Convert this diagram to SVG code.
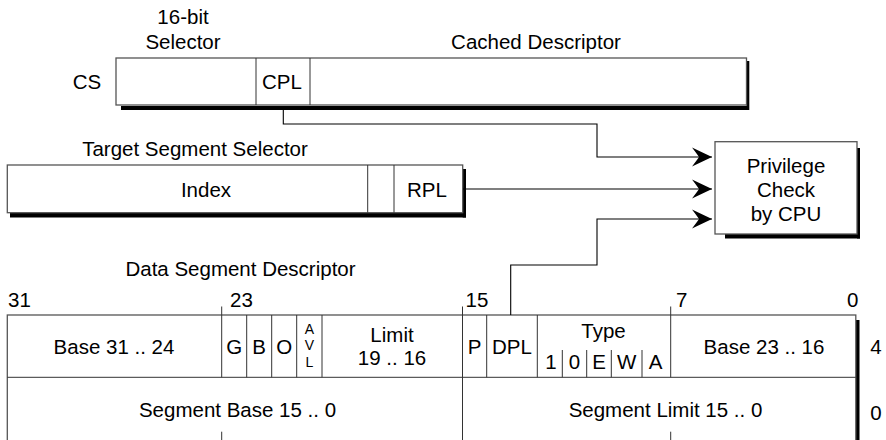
<svg xmlns="http://www.w3.org/2000/svg" width="886" height="440" viewBox="0 0 886 440">
<style>
text{font-family:"Liberation Sans",Arial,sans-serif;font-size:20.5px;fill:#000;text-anchor:middle}
.sm{font-size:14px}
.st{text-anchor:start}
.box{fill:#fff;stroke:#555;stroke-width:1.3}
.div{stroke:#333;stroke-width:1;fill:none}
.sh{fill:#000}
.con{fill:none;stroke:#000;stroke-width:1.1}
</style>
<defs>
<marker id="ah" viewBox="-21 -10 22 20" refX="0" refY="0" markerWidth="22" markerHeight="20" markerUnits="userSpaceOnUse" orient="auto">
<path d="M0,0 L-20,-9.5 Q-15,-3 -13,0 Q-15,3 -20,9.5 Z" fill="#000"/>
</marker>
</defs>
<rect width="886" height="440" fill="#fff"/>

<g id="cs-register">
<text x="183" y="24">16-bit</text>
<text x="183" y="49">Selector</text>
<text x="536" y="49">Cached Descriptor</text>
<text x="87" y="89">CS</text>
<rect class="sh" x="121" y="106" width="628" height="4"/>
<rect class="sh" x="746.5" y="61" width="2.8" height="49"/>
<rect class="box" x="116" y="58" width="630.5" height="47"/>
<line class="div" x1="256" y1="58" x2="256" y2="105"/>
<line class="div" x1="310" y1="58" x2="310" y2="105"/>
<text x="282" y="89">CPL</text>
</g>

<g id="target-selector">
<text x="195" y="156">Target Segment Selector</text>
<rect class="sh" x="10" y="213" width="456" height="4.5"/>
<rect class="sh" x="462.7" y="169" width="3.3" height="48.5"/>
<rect class="box" x="7.3" y="165" width="455.4" height="47.7"/>
<line class="div" x1="367.7" y1="165" x2="367.7" y2="212.7"/>
<line class="div" x1="394" y1="165" x2="394" y2="212.7"/>
<text x="206" y="196.5">Index</text>
<text x="427" y="196.5">RPL</text>
</g>

<g id="privilege-check">
<rect class="sh" x="725" y="234" width="135" height="4.5"/>
<rect class="sh" x="857" y="148" width="3" height="90.5"/>
<rect class="box" x="715" y="141.7" width="142" height="92.3"/>
<text x="786" y="172.5">Privilege</text>
<text x="786" y="196.5">Check</text>
<text x="786" y="220.5">by CPU</text>
</g>

<g id="data-descriptor">
<text x="240.5" y="276">Data Segment Descriptor</text>
<text class="st" x="8" y="306.5">31</text>
<text class="st" x="230" y="306.5">23</text>
<text class="st" x="465.5" y="306.5">15</text>
<text class="st" x="676" y="306.5">7</text>
<text class="st" x="847" y="306.5">0</text>
<text x="876" y="353.5">4</text>
<text x="876" y="420">0</text>
<rect class="sh" x="856" y="320" width="3.5" height="125"/>
<rect class="box" x="7.3" y="315" width="848.5" height="135"/>
<line class="div" x1="7.3" y1="377.3" x2="855.8" y2="377.3"/>
<line class="div" x1="221.7" y1="306.5" x2="221.7" y2="377.3"/>
<line class="div" x1="246.7" y1="315" x2="246.7" y2="377.3"/>
<line class="div" x1="271.7" y1="315" x2="271.7" y2="377.3"/>
<line class="div" x1="296.7" y1="315" x2="296.7" y2="377.3"/>
<line class="div" x1="322" y1="315" x2="322" y2="377.3"/>
<line class="div" x1="462.5" y1="306.5" x2="462.5" y2="445"/>
<line class="div" x1="486.7" y1="315" x2="486.7" y2="377.3"/>
<line class="div" x1="537.3" y1="315" x2="537.3" y2="377.3"/>
<line class="div" x1="562.3" y1="350" x2="562.3" y2="377.3"/>
<line class="div" x1="586.7" y1="350" x2="586.7" y2="377.3"/>
<line class="div" x1="611.3" y1="350" x2="611.3" y2="377.3"/>
<line class="div" x1="642" y1="350" x2="642" y2="377.3"/>
<line class="div" x1="670.7" y1="306.5" x2="670.7" y2="377.3"/>
<line class="div" x1="221.7" y1="431.7" x2="221.7" y2="445"/>
<line class="div" x1="670.7" y1="431.7" x2="670.7" y2="445"/>
<text x="114" y="354">Base 31 .. 24</text>
<text x="234.2" y="354">G</text>
<text x="259.2" y="354">B</text>
<text x="284.2" y="354">O</text>
<text class="sm" x="309.3" y="334">A</text>
<text class="sm" x="309.3" y="350">V</text>
<text class="sm" x="309.3" y="366.5">L</text>
<text x="392" y="342">Limit</text>
<text x="392" y="365">19 .. 16</text>
<text x="474.6" y="354">P</text>
<text x="512" y="354">DPL</text>
<text x="603.5" y="337.5">Type</text>
<text x="551" y="369">1</text>
<text x="574.5" y="369">0</text>
<text x="599" y="369">E</text>
<text x="626.7" y="369">W</text>
<text x="655.5" y="369">A</text>
<text x="764" y="354">Base 23 .. 16</text>
<text x="237.5" y="417">Segment Base 15 .. 0</text>
<text x="665.5" y="417">Segment Limit 15 .. 0</text>
</g>

<g id="connectors">
<path class="con" d="M283.3,110 V124 H597 V157 H712" marker-end="url(#ah)"/>
<path class="con" d="M463,189 H712" marker-end="url(#ah)"/>
<path class="con" d="M510.7,315 V265 H597 V219 H712" marker-end="url(#ah)"/>
</g>
</svg>
